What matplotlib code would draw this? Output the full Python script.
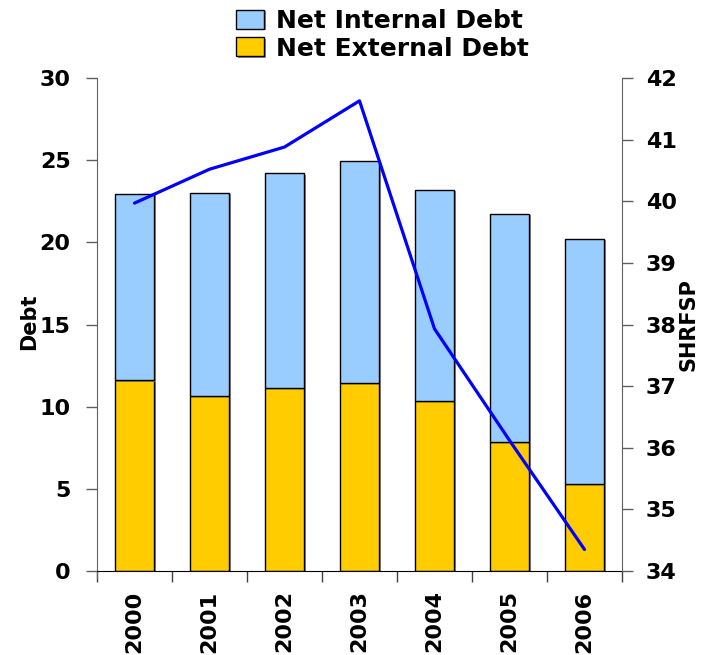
import matplotlib
matplotlib.use("Agg")
import matplotlib.pyplot as plt
import matplotlib.patheffects as pe
import numpy as np

plt.rcParams['font.family'] = ['DejaVu Sans']
plt.rcParams['font.weight'] = 'bold'

years = ["2000", "2001", "2002", "2003", "2004", "2005", "2006"]
external_debt = [11.6, 10.65, 11.15, 11.45, 10.35, 7.85, 5.3]
internal_debt = [11.35, 12.35, 13.05, 13.5, 12.85, 13.9, 14.9]
shrfsp = [39.97, 40.52, 40.88, 41.63, 37.93, 36.12, 34.35]

fig = plt.figure(figsize=(7.01, 6.55), dpi=100)
ax = fig.add_axes([0.1384, 0.1282, 0.7489, 0.7527])
ax2 = ax.twinx()

x = np.arange(len(years))
shadow = [pe.SimplePatchShadow(offset=(1.5, -1.0), shadow_rgbFace='#808080', alpha=0.9), pe.Normal()]
b1 = ax.bar(x, external_debt, width=0.53, color='#FFCC00', edgecolor='black',
            linewidth=1.0, label='Net External Debt', path_effects=shadow, zorder=2)
b2 = ax.bar(x, internal_debt, width=0.53, bottom=external_debt, color='#99CCFF',
            edgecolor='black', linewidth=1.0, label='Net Internal Debt',
            path_effects=shadow, zorder=2)

ax2.plot(x, shrfsp, color='#0000FF', linewidth=2.3, solid_capstyle='round')

ax.set_xlim(-0.5, len(years) - 0.5)
ax.set_ylim(0, 30)
ax.set_yticks(np.arange(0, 31, 5))
ax2.set_ylim(34, 42)
ax2.set_yticks(np.arange(34, 43, 1))

# category boundary ticks on the x axis, year labels at the centres
ax.set_xticks(np.arange(-0.5, len(years), 1.0))
ax.set_xticklabels([])
ax.set_xticks(x, minor=True)
ax.set_xticklabels(years, minor=True, rotation=90, fontsize=16, fontweight='bold')
ax.tick_params(axis='x', which='major', direction='out', length=8, width=1, color='#404040')
ax.tick_params(axis='x', which='minor', length=0, pad=14)

ax.tick_params(axis='y', direction='out', length=8, width=1, color='#606060',
               labelsize=16, pad=11)
ax2.tick_params(axis='y', direction='out', length=8, width=1, color='#606060',
                labelsize=16, pad=9)
for lab in ax.get_yticklabels() + ax2.get_yticklabels():
    lab.set_fontweight('bold')

ax.spines['top'].set_visible(False)
ax2.spines['top'].set_visible(False)
ax.spines['left'].set_color('#606060')
ax2.spines['right'].set_color('#606060')
ax2.spines['left'].set_visible(False)
ax.spines['right'].set_visible(False)
ax.spines['bottom'].set_color('black')
ax2.spines['bottom'].set_visible(False)
ax.spines['left'].set_bounds(-0.45, 30)

fig.text(29 / 701, 1 - 322 / 655, 'Debt', rotation=90, fontsize=15, fontweight='bold',
         ha='center', va='center')
fig.text(679 / 701, 1 - 325 / 655, 'SHRFSP', rotation=90, fontsize=15, fontweight='bold',
         ha='left', va='center')

fig.legend([b2, b1], ['Net Internal Debt', 'Net External Debt'],
           loc='upper left', bbox_to_anchor=(236 / 701, 1 - 9 / 655),
           frameon=False, fontsize=18, handlelength=1.12, handleheight=0.8,
           handletextpad=0.48, labelspacing=0.14, borderpad=0, borderaxespad=0)

fig.savefig('out.png', dpi=100)
